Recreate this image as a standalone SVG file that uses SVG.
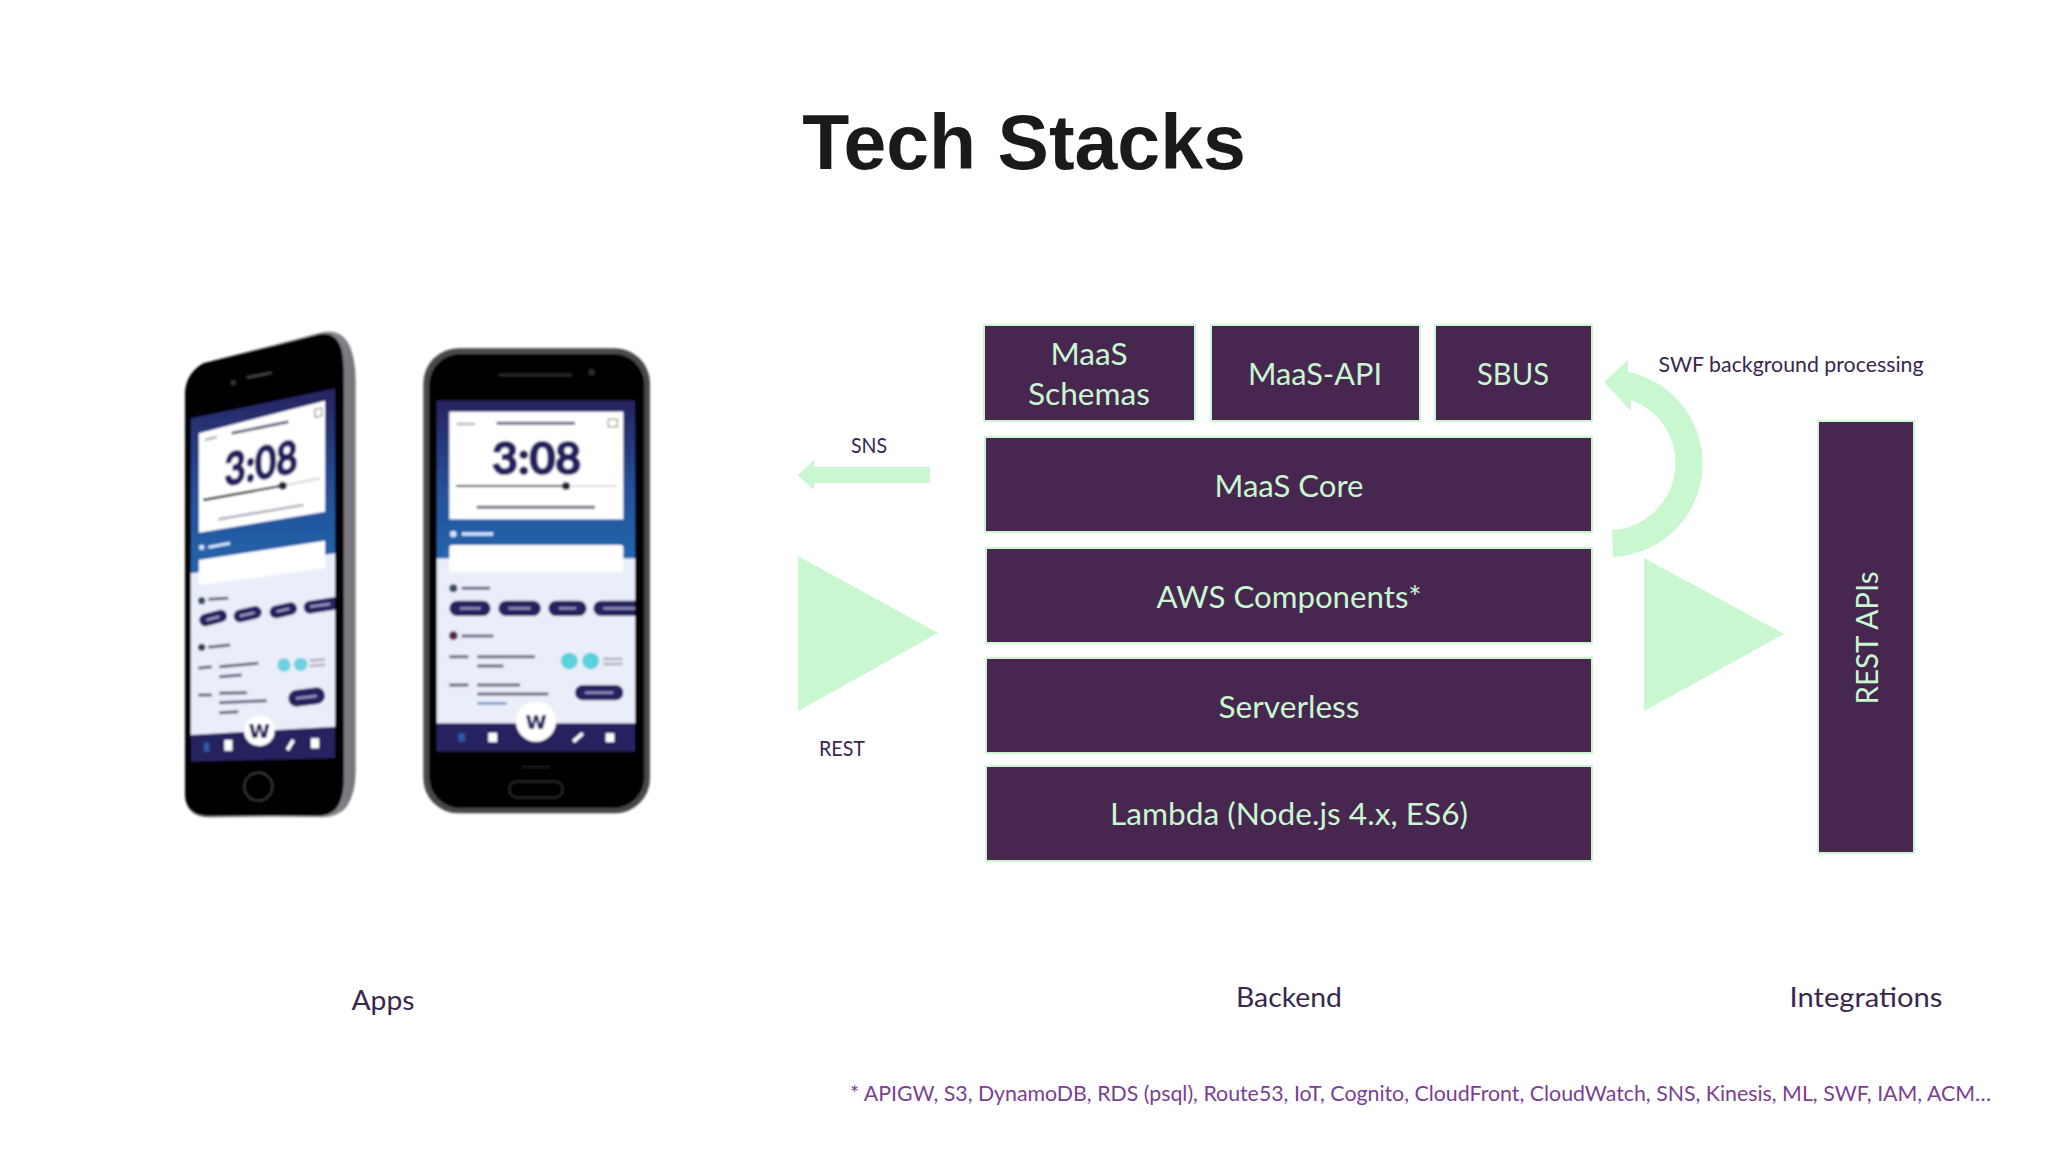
<svg xmlns="http://www.w3.org/2000/svg" width="2048" height="1152" viewBox="0 0 2048 1152">
<style>
.box{fill:#47264f;stroke:#c8f7d0;stroke-width:2}
.bt{font-family:Lato,"Open Sans",sans-serif;font-size:31px;fill:#c8f7d0;text-anchor:middle}
.lab{font-family:Lato,"Open Sans",sans-serif;font-size:27px;fill:#38284e;text-anchor:middle}
.sm{font-family:Lato,"Open Sans",sans-serif;font-size:20.5px;fill:#38284e;text-anchor:middle}
.arw{fill:#c8f7d0}
.clock{font-family:Lato,"Open Sans",sans-serif;font-weight:700;font-size:134px;fill:#25235f;stroke:#25235f;stroke-width:6;text-anchor:middle}
.wl{font-family:"DejaVu Sans",sans-serif;font-weight:700;font-size:72px;fill:#25235f;text-anchor:middle}
.d{stroke:#6a6a82;stroke-width:9;fill:none}
.g{stroke:#b4b4c0;stroke-width:8;fill:none}
.n{stroke:#25235f;fill:none;stroke-linecap:round}
.p{stroke:#9a9ac4;fill:none;stroke-width:7}
</style>
<defs>
<filter id="soft" x="-5%" y="-5%" width="110%" height="110%"><feGaussianBlur stdDeviation="3"/></filter>
<linearGradient id="sky" x1="0" y1="0" x2="0" y2="1"><stop offset="0" stop-color="#25235f"/><stop offset="0.55" stop-color="#254f97"/><stop offset="1" stop-color="#2466ad"/></linearGradient>
<linearGradient id="edge" x1="0" y1="0" x2="1" y2="0"><stop offset="0" stop-color="#55555b"/><stop offset="0.5" stop-color="#b9b9c0"/><stop offset="1" stop-color="#74747a"/></linearGradient>
<clipPath id="scrL"><path d="M92 325L525 235V1345L92 1355Z"/></clipPath>
<clipPath id="scrR"><rect x="830" y="272" width="595" height="1053"/></clipPath>
</defs>
<rect width="2048" height="1152" fill="#fff"/>
<text id="title" x="1024" y="169" text-anchor="middle" font-family="'Liberation Sans',Arial,sans-serif" font-weight="700" font-size="77" fill="#1a1a1a">Tech Stacks</text>

<g id="phone-left" transform="translate(160 310) scale(.33333)">
<g filter="url(#soft)">
<path d="M75 250Q78 190 130 160L490 66Q545 55 570 110Q587 150 587 220V1380Q587 1450 560 1490Q535 1522 480 1522H150Q75 1522 75 1450Z" fill="url(#edge)"/>
<path d="M75 250Q78 190 130 160L480 72Q530 65 545 120Q552 150 552 220V1400Q552 1470 525 1500Q505 1518 470 1518H150Q75 1518 75 1450Z" fill="#020204"/>
<g clip-path="url(#scrL)">
<path d="M92 325L525 235V735L92 790Z" fill="url(#sky)"/>
<path d="M92 790L525 730V1270L92 1290Z" fill="#e9eef9"/>
<path d="M92 1275L525 1250V1345L92 1355Z" fill="#25235f"/>
<path d="M117 370L495 272V605L117 668Z" fill="#fff"/>
<path d="M117 750L495 692V775L117 825Z" fill="#fff"/>
<text class="clock" transform="translate(303 507) skewY(-11) scale(.82 1)">3:08</text>
<path d="M130 570L368 527" stroke="#25253a" stroke-width="7" fill="none"/>
<path d="M368 527L480 505" stroke="#d5d5dc" stroke-width="6" fill="none"/>
<circle cx="368" cy="527" r="12" fill="#25253a"/>
<path class="g" d="M175 628L430 585M135 390L170 380"/>
<path class="d" d="M215 370L385 335"/>
<path d="M465 298L485 294V318L465 322Z" fill="none" stroke="#999" stroke-width="4"/>
<circle cx="125" cy="712" r="8" fill="#cfe3ff"/>
<path d="M145 712L210 700" stroke="#d0e4ff" stroke-width="9"/>
<circle cx="125" cy="872" r="11" fill="#3a4a66"/>
<path class="d" d="M145 868L205 865M145 1012L210 1005"/>
<circle cx="125" cy="1012" r="11" fill="#3a3a55"/>
<path class="n" stroke-width="38" d="M137 930L182 918M240 918L286 907M348 906L392 896M450 892L540 878"/>
<path class="p" d="M140 930L178 920M240 918L284 908M350 905L388 896M450 890L510 882"/>
<path class="d" d="M115 1075L155 1070M178 1070L295 1060M178 1100L245 1095M115 1155L155 1155M178 1150L260 1148M178 1178L320 1172M178 1208L235 1205"/>
<circle cx="372" cy="1065" r="20" fill="#6fd0e2"/><circle cx="422" cy="1063" r="20" fill="#6fd0e2"/>
<path class="g" d="M450 1052L495 1048M450 1068L495 1064"/>
<path class="n" stroke-width="50" d="M410 1165L470 1157"/>
<path class="p" d="M408 1165L470 1158"/>
<path d="M140 1298V1325" stroke="#2e5aa8" stroke-width="16"/>
<path d="M205 1290V1322M465 1285V1315" stroke="#fff" stroke-width="24"/>
<path d="M382 1320L400 1290" stroke="#fff" stroke-width="11"/>
<circle cx="298" cy="1262" r="46" fill="#fff"/>
<text class="wl" x="298" y="1284">w</text>
</g>
<path d="M220 218h.1" stroke="#333" stroke-width="16" stroke-linecap="round"/>
<path d="M260 203L335 188" stroke="#44444a" stroke-width="7"/>
<circle cx="295" cy="1430" r="42" fill="none" stroke="#3a3a3e" stroke-width="5"/>
</g>
</g>

<g id="phone-right" transform="translate(160 310) scale(.33333)">
<g filter="url(#soft)">
<rect x="790" y="115" width="680" height="1395" rx="105" fill="#48484c"/>
<rect x="808" y="132" width="645" height="1362" rx="92" fill="#040405"/>
<g clip-path="url(#scrR)">
<rect x="830" y="272" width="595" height="475" fill="url(#sky)"/>
<rect x="830" y="745" width="595" height="500" fill="#e9eef9"/>
<rect x="830" y="1240" width="595" height="85" fill="#25235f"/>
<rect x="868" y="305" width="522" height="323" fill="#fff"/>
<rect x="868" y="705" width="522" height="80" rx="8" fill="#fff"/>
<text class="clock" x="1130" y="492">3:08</text>
<path d="M888 528H1218" stroke="#25253a" stroke-width="6"/>
<path d="M1218 528H1370" stroke="#d5d5dc" stroke-width="5"/>
<circle cx="1218" cy="528" r="12" fill="#25253a"/>
<path class="g" d="M890 342H945"/>
<path class="d" d="M1010 340H1245"/>
<path class="d" d="M950 592H1305"/>
<rect x="1345" y="328" width="27" height="22" fill="none" stroke="#999" stroke-width="4"/>
<circle cx="880" cy="672" r="10" fill="#cfe3ff"/>
<path d="M905 672H1000" stroke="#d0e4ff" stroke-width="10"/>
<circle cx="880" cy="835" r="12" fill="#3a4a66"/>
<circle cx="880" cy="977" r="13" fill="#5a2a4a"/>
<path class="d" d="M905 835H990M905 978H1000"/>
<path class="n" stroke-width="46" d="M891 895H969M1038 895H1120M1188 895H1257M1323 895H1440"/>
<path class="p" d="M900 895H962M1045 895H1112M1197 895H1248M1330 895H1425"/>
<path class="d" d="M868 1040H925M952 1040H1125M952 1068H1030M868 1125H925M952 1125H1080M952 1152H1165"/>
<path d="M952 1180H1040" stroke="#6a8fc0" stroke-width="7"/>
<circle cx="1228" cy="1053" r="25" fill="#5cd0dc"/><circle cx="1292" cy="1053" r="25" fill="#5cd0dc"/>
<path class="g" d="M1330 1047H1388M1330 1062H1388"/>
<path class="n" stroke-width="46" d="M1268 1148H1367"/>
<path class="p" d="M1275 1148H1360"/>
<path d="M905 1270V1295" stroke="#2e5aa8" stroke-width="20"/>
<path d="M998 1268V1296M1350 1270V1296" stroke="#fff" stroke-width="26"/>
<path d="M1240 1295L1268 1270" stroke="#fff" stroke-width="11"/>
<circle cx="1128" cy="1235" r="60" fill="#fff"/>
<text class="wl" x="1128" y="1258">w</text>
</g>
<path d="M1015 195H1235" stroke="#2c2c30" stroke-width="8"/>
<circle cx="1295" cy="187" r="10" fill="#2c2c30"/>
<rect x="1048" y="1415" width="160" height="47" rx="22" fill="none" stroke="#2a2a2e" stroke-width="5"/>
<path d="M1085 1370H1170" stroke="#1c1c1e" stroke-width="6"/>
</g>
</g>

<g id="connectors">
<path id="sns-arrow" class="arw" d="M930 467H814V460L798 475L814 490V483H930Z"/>
<path id="rest-arrow" class="arw" d="M798 556L938 633L798 711Z"/>
<path id="rest-apis-arrow" class="arw" d="M1644 558L1784 634L1644 711Z"/>
<path id="swf-arrow" class="arw" d="M1613 557A93.5 93.5 0 0 0 1628 372V360L1604 382L1631 411V400A67 67 0 0 1 1612 530Z"/>
</g>

<g id="node-schemas"><rect class="box" x="984" y="325" width="211" height="96"/><text class="bt" x="1089" y="365" textLength="77" lengthAdjust="spacingAndGlyphs">MaaS</text><text class="bt" x="1089" y="405" textLength="122" lengthAdjust="spacingAndGlyphs">Schemas</text></g>
<g id="node-maas-api"><rect class="box" x="1211" y="325" width="209" height="96"/><text class="bt" x="1315" y="385" textLength="134" lengthAdjust="spacingAndGlyphs">MaaS-API</text></g>
<g id="node-sbus"><rect class="box" x="1435" y="325" width="157" height="96"/><text class="bt" x="1513" y="385" textLength="72" lengthAdjust="spacingAndGlyphs">SBUS</text></g>
<g id="node-core"><rect class="box" x="985" y="437" width="607" height="95"/><text class="bt" x="1289" y="497" textLength="149" lengthAdjust="spacingAndGlyphs">MaaS Core</text></g>
<g id="node-aws"><rect class="box" x="986" y="548" width="606" height="95"/><text class="bt" x="1289" y="608" textLength="265" lengthAdjust="spacingAndGlyphs">AWS Components*</text></g>
<g id="node-serverless"><rect class="box" x="986" y="658" width="606" height="95"/><text class="bt" x="1289" y="718" textLength="141" lengthAdjust="spacingAndGlyphs">Serverless</text></g>
<g id="node-lambda"><rect class="box" x="986" y="766" width="606" height="95"/><text class="bt" x="1289" y="825" textLength="358" lengthAdjust="spacingAndGlyphs">Lambda (Node.js 4.x, ES6)</text></g>
<g id="node-rest-apis"><rect class="box" x="1818" y="421" width="96" height="432"/><text class="bt" transform="translate(1878 638) rotate(-90)" textLength="133" lengthAdjust="spacingAndGlyphs">REST APIs</text></g>

<text class="sm" x="869" y="453" textLength="36" lengthAdjust="spacingAndGlyphs">SNS</text>
<text class="sm" x="842" y="756" textLength="46" lengthAdjust="spacingAndGlyphs">REST</text>
<text class="sm" x="1791" y="372" textLength="265" lengthAdjust="spacingAndGlyphs">SWF background processing</text>
<text class="lab" x="383" y="1010" textLength="63" lengthAdjust="spacingAndGlyphs">Apps</text>
<text class="lab" x="1289" y="1007" textLength="106" lengthAdjust="spacingAndGlyphs">Backend</text>
<text class="lab" x="1866" y="1007" textLength="153" lengthAdjust="spacingAndGlyphs">Integrations</text>
<text x="850" y="1101" font-family="Lato,'Open Sans',sans-serif" font-size="21" fill="#7a3f93" textLength="1141" lengthAdjust="spacingAndGlyphs">* APIGW, S3, DynamoDB, RDS (psql), Route53, IoT, Cognito, CloudFront, CloudWatch, SNS, Kinesis, ML, SWF, IAM, ACM…</text>
</svg>
